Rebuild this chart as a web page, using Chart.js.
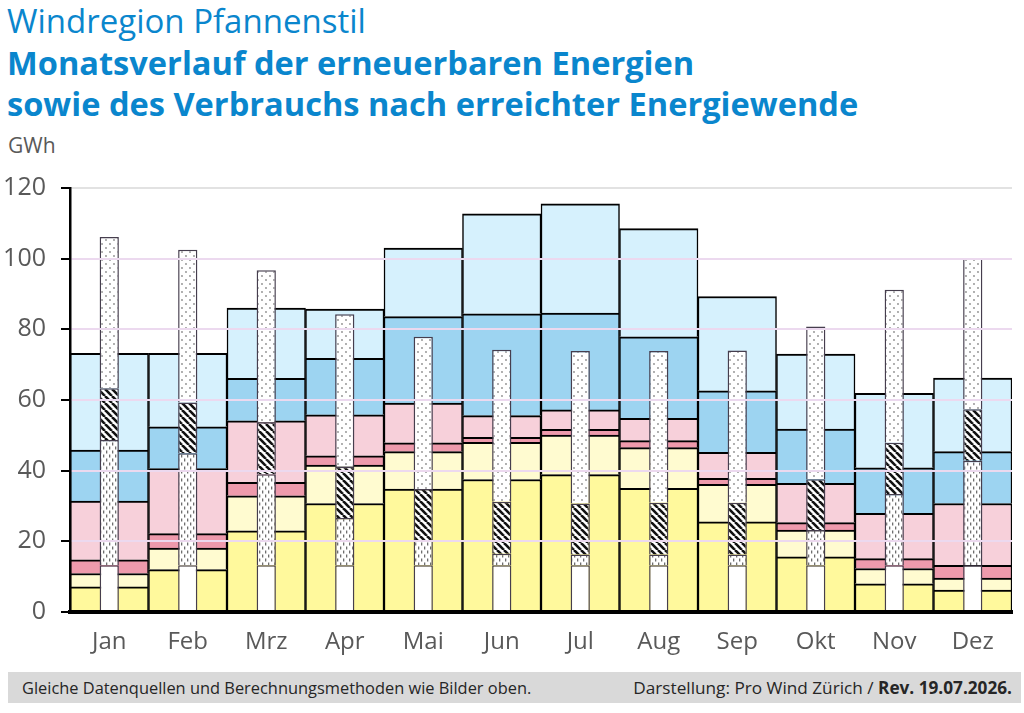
<!DOCTYPE html>
<html>
<head>
<meta charset="utf-8">
<script src="https://cdn.jsdelivr.net/npm/chart.js@4.4.1/dist/chart.umd.min.js"></script>
<style>
  body { margin: 0; background: #fff; width: 1024px; height: 713px; overflow: hidden; position: relative; font-family: "Open Sans", sans-serif; }
  .t { position: absolute; left: 7px; color: #0a86cd; white-space: nowrap; }
  #t1 { top: -2px; font-size: 33px; font-weight: 400; }
  #t2 { top: 40px; font-size: 32.6px; font-weight: 700; }
  #t3 { top: 81px; font-size: 32.6px; font-weight: 700; }
  #unit { position: absolute; left: 8px; top: 131px; font-size: 21px; color: #595959; }
  #wrap { position: absolute; left: 0; top: 158px; width: 1024px; height: 502px; }
  #foot { position: absolute; left: 8px; top: 672px; width: 1013px; height: 31px; background: #d9d9d9; color: #262626; line-height: 31px; }
  #foot .l { position: absolute; left: 14px; font-size: 16.4px; }
  #foot .r { position: absolute; right: 9px; font-size: 17.2px; }
</style>
</head>
<body>
<div class="t" id="t1">Windregion Pfannenstil</div>
<div class="t" id="t2">Monatsverlauf der erneuerbaren Energien</div>
<div class="t" id="t3">sowie des Verbrauchs nach erreichter Energiewende</div>
<div id="unit">GWh</div>
<div id="wrap"><canvas id="energyChart"></canvas></div>
<div id="foot"><span class="l">Gleiche Datenquellen und Berechnungsmethoden wie Bilder oben.</span><span class="r">Darstellung: Pro Wind Zürich / <b>Rev. 19.07.2026.</b></span></div>
<script>
var months = ["Jan", "Feb", "Mrz", "Apr", "Mai", "Jun", "Jul", "Aug", "Sep", "Okt", "Nov", "Dez"];
var yTicks = [0, 20, 40, 60, 80, 100, 120];

// Produktion (breite Balken), von unten nach oben, GWh
var pvDach      = [7.1, 12.0, 23.0, 30.7, 34.8, 37.5, 38.9, 35.0, 25.5, 15.6, 8.0, 6.2];
var pvFassade   = [3.8, 6.1, 9.9, 10.9, 10.6, 10.5, 11.2, 11.5, 10.6, 7.6, 4.3, 3.4];
var biomasse    = [3.9, 4.1, 3.8, 2.6, 2.5, 1.4, 1.6, 2.0, 1.7, 2.1, 2.8, 3.6];
var wasser      = [16.6, 18.4, 17.4, 11.6, 11.2, 6.2, 5.5, 6.3, 7.4, 11.1, 12.8, 17.5];
var windA       = [14.4, 11.8, 12.0, 16.0, 24.5, 28.8, 27.4, 23.1, 17.4, 15.4, 12.9, 14.7];
var windB       = [27.4, 20.8, 19.9, 13.9, 19.4, 28.3, 30.9, 30.6, 26.7, 21.2, 21.1, 20.8];

// Verbrauch (schmale Balken), von unten nach oben, GWh
var grundlast   = [13.2, 13.2, 13.2, 13.2, 13.2, 13.2, 13.2, 13.2, 13.2, 13.2, 13.2, 13.2];
var waerme      = [35.5, 31.7, 25.8, 13.4, 7.1, 3.3, 3.1, 3.1, 3.1, 10.0, 20.2, 29.6];
var mobilitaet  = [14.6, 14.4, 14.7, 14.5, 14.5, 14.7, 14.4, 14.6, 14.6, 14.4, 14.5, 14.6];
var haushalte   = [42.8, 43.2, 43.0, 43.2, 43.1, 43.0, 43.2, 43.0, 43.1, 43.2, 43.3, 42.8];

function makePattern(kind) {
    var c = document.createElement("canvas");
    var g = c.getContext("2d");
    if (kind === "dots") {
        c.width = 8; c.height = 8;
        g.fillStyle = "#fff"; g.fillRect(0, 0, 8, 8);
        g.fillStyle = "#8c8c8c";
        g.beginPath(); g.arc(2, 2, 0.9, 0, 7); g.fill();
        g.beginPath(); g.arc(6, 6, 0.9, 0, 7); g.fill();
    } else if (kind === "dashes") {
        c.width = 6; c.height = 8;
        g.fillStyle = "#fff"; g.fillRect(0, 0, 6, 8);
        g.fillStyle = "#6e6e6e";
        g.fillRect(1, 0.5, 1.3, 3);
        g.fillRect(4, 4.5, 1.3, 3);
    } else {
        c.width = 7; c.height = 7;
        g.fillStyle = "#fff"; g.fillRect(0, 0, 7, 7);
        g.strokeStyle = "#111"; g.lineWidth = 2.6;
        for (var k = -1; k <= 1; k++) {
            g.beginPath(); g.moveTo(k * 7, 0); g.lineTo(k * 7 + 7, 7); g.stroke();
        }
    }
    return g.createPattern(c, "repeat");
}

function prod(label, data, color) {
    return {
        label: label, data: data, backgroundColor: color, stack: "prod", order: 2,
        borderColor: "#000", borderWidth: { top: 2, left: 1.5, right: 1.5, bottom: 0 },
        borderSkipped: false, barPercentage: 1, categoryPercentage: 1, grouped: false
    };
}
function cons(label, data, fill) {
    return {
        label: label, data: data, backgroundColor: fill, stack: "cons", order: 1,
        borderColor: "#463e4e", borderWidth: { top: 1.5, left: 1.5, right: 1.5, bottom: 0 },
        borderSkipped: false, barPercentage: 0.245, categoryPercentage: 1, grouped: false
    };
}

var datasets = [
    prod("Photovoltaik Dächer", pvDach, "#fff99c"),
    prod("Photovoltaik Fassaden", pvFassade, "#fffbd0"),
    prod("Biomasse", biomasse, "#ee9aac"),
    prod("Wasserkraft", wasser, "#f7d0da"),
    prod("Wind Standorte A", windA, "#9dd4f1"),
    prod("Wind Standorte B", windB, "#d6f1fd"),
    cons("Grundverbrauch", grundlast, "#ffffff"),
    cons("Wärmepumpen", waerme, makePattern("dashes")),
    cons("Elektromobilität", mobilitaet, makePattern("hatch")),
    cons("Haushalte und Gewerbe", haushalte, makePattern("dots"))
];

var tickFont = { family: "'Open Sans', sans-serif", size: 24 };

new Chart(document.getElementById("energyChart"), {
    type: "bar",
    data: { labels: months, datasets: datasets },
    options: {
        responsive: true,
        maintainAspectRatio: false,
        animation: false,
        layout: { padding: { top: 18, right: 12, left: 0, bottom: 0 } },
        plugins: { legend: { display: false }, tooltip: { enabled: false } },
        scales: {
            x: {
                stacked: true,
                grid: { display: false, drawTicks: false },
                border: { display: true, color: "#000", width: 4, z: 2 },
                ticks: { color: "#595959", font: tickFont, padding: 16 },
                afterFit: function (s) { s.height = 48; }
            },
            y: {
                stacked: true,
                min: 0, max: 120,
                afterBuildTicks: function (s) { s.ticks = yTicks.map(function (v) { return { value: v }; }); },
                grid: {
                    z: 1, lineWidth: 2, drawTicks: true, tickLength: 9, tickWidth: 2, tickColor: "#000",
                    color: function (c) { return c.tick && c.tick.value === 120 ? "#e2e2e2" : "#ecd9ef"; }
                },
                border: { display: true, color: "#000", width: 2.5, z: 2 },
                ticks: { color: "#595959", font: { family: "'Open Sans', sans-serif", size: 25 }, padding: 15 },
                afterFit: function (s) { s.width = 70; }
            }
        }
    }
});
</script>
</body>
</html>
